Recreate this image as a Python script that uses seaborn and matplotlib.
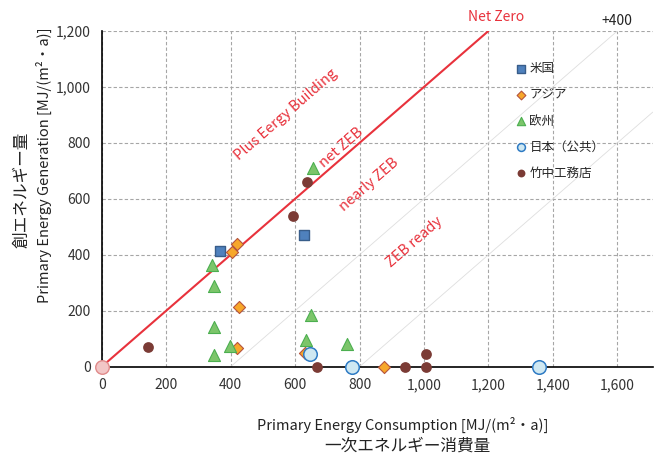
import matplotlib
matplotlib.use("Agg")
import matplotlib.pyplot as plt
import matplotlib.ticker as mticker
import seaborn as sns
import numpy as np
import pandas as pd

# data (consumption, generation) in MJ/(m2 a)
us_x = [366, 629]
us_y = [413, 470]
asia_x = [420, 405, 427, 420, 630, 876]
asia_y = [437, 410, 215, 68, 50, 0]
eu_x = [342, 347, 347, 347, 399, 648, 635, 760, 656]
eu_y = [362, 288, 142, 42, 75, 185, 95, 81, 711]
jp_x = [645, 777, 1356]
jp_y = [44, 0, 0]
tk_x = [595, 145, 668, 638, 941, 1005, 1005]
tk_y = [540, 70, 0, 660, 0, 0, 45]
origin_x = [0]
origin_y = [0]

groups = ["米国", "アジア", "欧州", "日本（公共）", "竹中工務店"]

sns.set_style("white")
plt.rcParams['font.family'] = ['Noto Sans CJK JP', 'DejaVu Sans']

fig = plt.figure(figsize=(6.55, 4.53), dpi=100)
ax = fig.add_axes([0.1553, 0.1905, 0.8413, 0.9316 - 0.1905])

# reference lines
ax.plot([0, 1200], [0, 1200], color="#e8323c", lw=1.5, zorder=2)
ax.plot([400, 1600], [0, 1200], color="#dedede", lw=0.6, zorder=1)
ax.plot([800, 1710], [0, 910], color="#dedede", lw=0.6, zorder=1)

# series
sns.scatterplot(x=origin_x, y=origin_y, ax=ax, marker="o", s=95, color="#f2c6c6",
                edgecolor="#e08a8a", linewidth=1, clip_on=False, zorder=5)
sns.scatterplot(x=us_x, y=us_y, ax=ax, marker="s", s=55, color="#4f81bd",
                edgecolor="#385d8a", linewidth=1, label=groups[0], clip_on=False, zorder=5)
sns.scatterplot(x=asia_x, y=asia_y, ax=ax, marker="D", s=38, color="#f7a72a",
                edgecolor="#b5533c", linewidth=0.8, label=groups[1], clip_on=False, zorder=5)
sns.scatterplot(x=eu_x, y=eu_y, ax=ax, marker="^", s=75, color="#7cc56a",
                edgecolor="#4caf50", linewidth=0.8, label=groups[2], clip_on=False, zorder=5)
sns.scatterplot(x=jp_x, y=jp_y, ax=ax, marker="o", s=95, color="#cfe8f2",
                edgecolor="#2e7bc4", linewidth=1.1, label=groups[3], clip_on=False, zorder=5)
sns.scatterplot(x=tk_x, y=tk_y, ax=ax, marker="o", s=60, color="#7b3b35",
                edgecolor="#7b3b35", linewidth=0, label=groups[4], clip_on=False, zorder=5)

ax.set_xlim(0, 1710)
ax.set_ylim(0, 1200)
ax.set_xticks(np.arange(0, 1601, 200))
ax.set_yticks(np.arange(0, 1201, 200))
fmt = mticker.FuncFormatter(lambda v, p: f"{v:,.0f}")
ax.xaxis.set_major_formatter(fmt)
ax.yaxis.set_major_formatter(fmt)
ax.tick_params(axis="x", length=0, pad=8, labelsize=10, colors="#333333")
ax.tick_params(axis="y", length=3, width=0.8, pad=5, labelsize=10, colors="#333333")
ax.grid(True, ls=(0, (3, 2)), color="#a6a6a6", lw=0.8)
ax.set_axisbelow(True)
for side in ["top", "right"]:
    ax.spines[side].set_visible(False)
for side in ["left", "bottom"]:
    ax.spines[side].set_color("black")
    ax.spines[side].set_linewidth(1.2)
    ax.spines[side].set_zorder(3)

# region labels
red = "#e8323c"
ax.text(572, 902, "Plus Eergy Building", color=red, fontsize=10.5, rotation=41,
        ha="center", va="center")
ax.text(745, 783, "net ZEB", color=red, fontsize=10.5, rotation=41, ha="center", va="center")
ax.text(829, 649, "nearly ZEB", color=red, fontsize=10.5, rotation=41, ha="center", va="center")
ax.text(972, 446, "ZEB ready", color=red, fontsize=10.5, rotation=41, ha="center", va="center")
ax.text(1224, 1249, "Net Zero", color=red, fontsize=10, ha="center", va="center", clip_on=False)
ax.text(1598, 1235, "+400", color="#222222", fontsize=10, ha="center", va="center", clip_on=False)

leg = ax.legend(loc="upper left", bbox_to_anchor=(507 / 655, 1 - 56 / 453),
                bbox_transform=fig.transFigure, frameon=False, fontsize=9,
                handletextpad=0.1, labelspacing=1.05,
                handlelength=1.2, borderpad=0)
for h, sz in zip(leg.legend_handles, [32, 20, 36, 32, 32]):
    h.set_sizes([sz])

# axis titles as figure text
fig.text(403 / 655, 1 - 425 / 453, "Primary Energy Consumption [MJ/(m²・a)]",
         fontsize=10.5, ha="center", va="center", color="#222222")
fig.text(407 / 655, 1 - 446 / 453, "一次エネルギー消費量", fontsize=12,
         ha="center", va="center", color="#222222")
fig.text(44 / 655, 1 - 165 / 453, "Primary Energy Generation [MJ/(m²・a)]",
         fontsize=10.5, rotation=90, ha="center", va="center", color="#222222")
fig.text(22 / 655, 1 - 190 / 453, "創エネルギー量", fontsize=12,
         rotation=90, ha="center", va="center", color="#222222")

fig.savefig("out.png", dpi=100)
